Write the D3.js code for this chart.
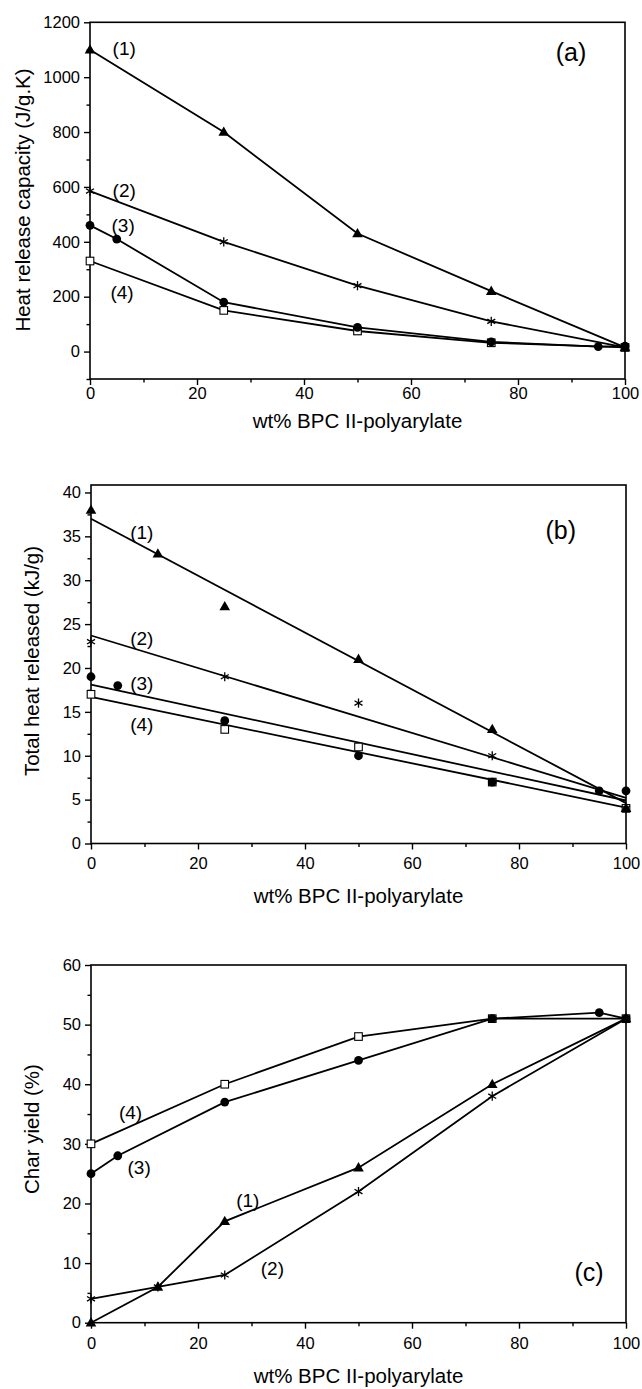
<!DOCTYPE html>
<html>
<head>
<meta charset="utf-8">
<script src="https://cdnjs.cloudflare.com/ajax/libs/d3/7.8.5/d3.min.js"></script>
<style>
  body { margin: 0; background: #fff; }
  svg text { font-family: "Liberation Sans", Arial, sans-serif; fill: #000; }
</style>
</head>
<body>
<script>
// x axis is the same for the three panels
var xTickVals = [0, 20, 40, 60, 80, 100];
var xMinorVals = [10, 30, 50, 70, 90];

// (a) heat release capacity (J/g.K)
var hrcX1 = [0, 25, 50, 75, 100],             hrcY1 = [1100, 800, 430, 220, 15];
var hrcX2 = [0, 25, 50, 75, 100],             hrcY2 = [585, 400, 240, 110, 15];
var hrcX3 = [0, 5, 25, 50, 75, 95, 100],      hrcY3 = [460, 410, 180, 88, 35, 18, 20];
var hrcX4 = [0, 25, 50, 75, 100],             hrcY4 = [330, 150, 75, 32, 15];
var hrcTicks = [0, 200, 400, 600, 800, 1000, 1200];
var hrcMinor = [-100, 100, 300, 500, 700, 900, 1100];

// (b) total heat released (kJ/g), points + straight fits (values at 0 and 100)
var thrX1 = [0, 12.5, 25, 50, 75, 100],       thrY1 = [38, 33, 27, 21, 13, 4];
var thrX2 = [0, 25, 50, 75, 100],             thrY2 = [23, 19, 16, 10, 4];
var thrX3 = [0, 5, 25, 50, 75, 95, 100],      thrY3 = [19, 18, 14, 10, 7, 6, 6];
var thrX4 = [0, 25, 50, 75, 100],             thrY4 = [17, 13, 11, 7, 4];
var thrFit1 = [37, 4.6], thrFit2 = [23.7, 5.2], thrFit3 = [18.1, 4.9], thrFit4 = [16.7, 4.1];
var thrTicks = [0, 5, 10, 15, 20, 25, 30, 35, 40];
var thrMinor = [2.5, 7.5, 12.5, 17.5, 22.5, 27.5, 32.5, 37.5];

// (c) char yield (%)
var charX1 = [0, 12.5, 25, 50, 75, 100],      charY1 = [0, 6, 17, 26, 40, 51];
var charX2 = [0, 12.5, 25, 50, 75, 100],      charY2 = [4, 6, 8, 22, 38, 51];
var charX3 = [0, 5, 25, 50, 75, 95, 100],     charY3 = [25, 28, 37, 44, 51, 52, 51];
var charX4 = [0, 25, 50, 75, 100],            charY4 = [30, 40, 48, 51, 51];
var charTicks = [0, 10, 20, 30, 40, 50, 60];
var charMinor = [5, 15, 25, 35, 45, 55];

// curve labels, in data units
var hrcLabels = [["(1)", 6.4, 1105], ["(2)", 6.4, 589], ["(3)", 6.2, 461], ["(4)", 6.0, 217]];
var thrLabels = [["(1)", 9.5, 35.5], ["(2)", 9.5, 23.4], ["(3)", 9.5, 18.2], ["(4)", 9.5, 13.6]];
var charLabels = [["(4)", 7.4, 35.3], ["(3)", 9.0, 26.1], ["(1)", 29.3, 20.6], ["(2)", 33.9, 9.2]];

var W = 642, H = 1389;
var svg = d3.select("body").append("svg")
    .attr("width", W)
    .attr("height", H);

function zip(xs, ys) {
    return xs.map(function (x, i) { return [x, ys[i]]; });
}

function marker(g, kind, x, y) {
    var m = g.append("g").attr("transform", "translate(" + x + "," + y + ")");
    if (kind == "tri") {
        m.append("path").attr("d", "M0,-5.6L5.3,3.7L-5.3,3.7Z").attr("fill", "#000");
    } else if (kind == "dot") {
        m.append("circle").attr("r", 4.4).attr("fill", "#000");
    } else if (kind == "sq") {
        m.append("rect").attr("x", -3.8).attr("y", -3.8).attr("width", 7.6).attr("height", 7.6)
            .attr("fill", "#fff").attr("stroke", "#000").attr("stroke-width", 1.1);
    } else {
        // asterisk
        var r = 4.6;
        [90, 30, -30].forEach(function (a) {
            var t = a * Math.PI / 180;
            m.append("line")
                .attr("x1", -r * Math.cos(t)).attr("y1", -r * Math.sin(t))
                .attr("x2", r * Math.cos(t)).attr("y2", r * Math.sin(t))
                .attr("stroke", "#000").attr("stroke-width", 1.3);
        });
    }
}

function drawPanel(p) {
    var g = svg.append("g");
    var x = d3.scaleLinear().domain([0, 100]).range([p.left, p.right]);
    var y = d3.scaleLinear().domain(p.yDomain).range([p.bottom, p.top]);

    // frame
    g.append("rect")
        .attr("x", p.left).attr("y", p.top)
        .attr("width", p.right - p.left).attr("height", p.bottom - p.top)
        .attr("fill", "none").attr("stroke", "#000").attr("stroke-width", 1.6);

    // y axis
    var ya = g.append("g").attr("transform", "translate(" + p.left + ",0)")
        .call(d3.axisLeft(y).tickValues(p.yTicks).tickSize(6).tickPadding(4).tickFormat(d3.format("d")));
    ya.select(".domain").remove();
    g.append("g").attr("transform", "translate(" + p.left + ",0)")
        .call(d3.axisLeft(y).tickValues(p.yMinor).tickSize(3.5).tickFormat(""))
        .select(".domain").remove();

    // x axis
    var xa = g.append("g").attr("transform", "translate(0," + p.bottom + ")")
        .call(d3.axisBottom(x).tickValues(xTickVals).tickSize(6).tickPadding(p.xPad));
    xa.select(".domain").remove();
    g.append("g").attr("transform", "translate(0," + p.bottom + ")")
        .call(d3.axisBottom(x).tickValues(xMinorVals).tickSize(3.5).tickFormat(""))
        .select(".domain").remove();

    g.selectAll(".tick line").attr("stroke", "#000").attr("stroke-width", 1.4);
    g.selectAll(".tick text")
        .style("font-family", "'Liberation Sans', Arial, sans-serif")
        .style("font-size", "16.5px").attr("fill", "#000");

    var line = d3.line().x(function (d) { return x(d[0]); }).y(function (d) { return y(d[1]); });

    // lines below the markers
    if (p.fits) {
        p.fits.forEach(function (f) {
            g.append("path").datum([[0, f[0]], [100, f[1]]])
                .attr("d", line).attr("fill", "none").attr("stroke", "#000").attr("stroke-width", 1.8);
        });
    } else {
        p.series.forEach(function (s) {
            g.append("path").datum(zip(s.x, s.y))
                .attr("d", line).attr("fill", "none").attr("stroke", "#000").attr("stroke-width", 1.8);
        });
    }

    // markers: series 4 first so the filled ones sit on top
    p.series.slice().reverse().forEach(function (s) {
        zip(s.x, s.y).forEach(function (d) {
            marker(g, s.mark, x(d[0]), y(d[1]));
        });
    });

    // curve labels
    g.selectAll("text.lab").data(p.labels).enter().append("text")
        .attr("class", "lab")
        .attr("x", function (d) { return x(d[1]); })
        .attr("y", function (d) { return y(d[2]); })
        .attr("dy", "0.35em")
        .attr("text-anchor", "middle")
        .style("font-size", "19px")
        .text(function (d) { return d[0]; });

    g.append("text")
        .attr("x", x(p.tag[1])).attr("y", y(p.tag[2])).attr("dy", "0.35em")
        .attr("text-anchor", "middle").style("font-size", "25px")
        .text(p.tag[0]);

    // titles
    g.append("text")
        .attr("x", (p.left + p.right) / 2).attr("y", p.xTitleY).attr("dy", "0.35em")
        .attr("text-anchor", "middle").style("font-size", "20.5px")
        .text("wt% BPC II-polyarylate");

    g.append("text")
        .attr("transform", "translate(" + p.yTitleX + "," + p.yTitleY + ") rotate(-90)")
        .attr("dy", "0.35em")
        .attr("text-anchor", "middle").style("font-size", "20.5px")
        .text(p.yTitle);
}

drawPanel({
    left: 90, right: 625, top: 22.3, bottom: 379,
    yDomain: [-100, 1200], yTicks: hrcTicks, yMinor: hrcMinor, xPad: 2,
    series: [
        {x: hrcX1, y: hrcY1, mark: "tri"},
        {x: hrcX2, y: hrcY2, mark: "star"},
        {x: hrcX3, y: hrcY3, mark: "dot"},
        {x: hrcX4, y: hrcY4, mark: "sq"}
    ],
    labels: hrcLabels, tag: ["(a)", 89.9, 1092],
    xTitleY: 421, yTitleX: 23, yTitleY: 200,
    yTitle: "Heat release capacity (J/g.K)"
});

drawPanel({
    left: 91, right: 626, top: 485, bottom: 843.5,
    yDomain: [0, 40.85], yTicks: thrTicks, yMinor: thrMinor, xPad: 8,
    series: [
        {x: thrX1, y: thrY1, mark: "tri"},
        {x: thrX2, y: thrY2, mark: "star"},
        {x: thrX3, y: thrY3, mark: "dot"},
        {x: thrX4, y: thrY4, mark: "sq"}
    ],
    fits: [thrFit1, thrFit2, thrFit3, thrFit4],
    labels: thrLabels, tag: ["(b)", 87.8, 35.7],
    xTitleY: 896, yTitleX: 32, yTitleY: 661,
    yTitle: "Total heat released (kJ/g)"
});

drawPanel({
    left: 91, right: 626, top: 965, bottom: 1322.7,
    yDomain: [0, 60], yTicks: charTicks, yMinor: charMinor, xPad: 9,
    series: [
        {x: charX1, y: charY1, mark: "tri"},
        {x: charX2, y: charY2, mark: "star"},
        {x: charX3, y: charY3, mark: "dot"},
        {x: charX4, y: charY4, mark: "sq"}
    ],
    labels: charLabels, tag: ["(c)", 93.1, 8.5],
    xTitleY: 1376, yTitleX: 32, yTitleY: 1129,
    yTitle: "Char yield (%)"
});
</script>
</body>
</html>
